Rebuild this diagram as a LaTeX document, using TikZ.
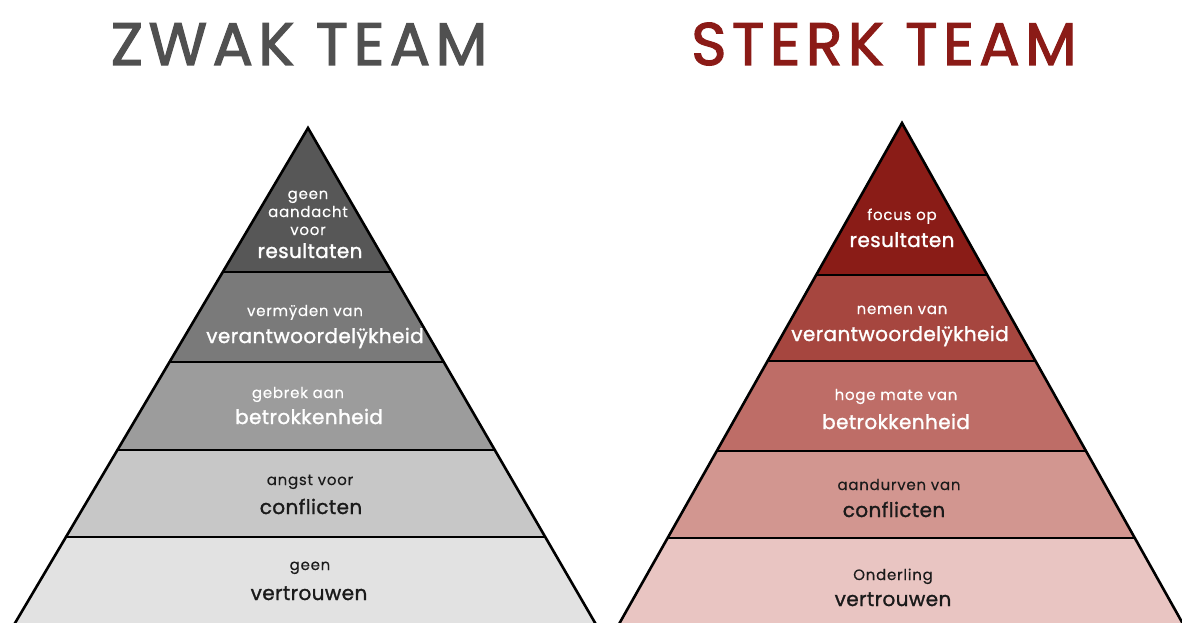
\documentclass[tikz,border=0pt]{standalone}
\usepackage{fontspec}
\setmainfont{Poppins}
\newfontfamily\titlefont[FakeBold=2,LetterSpace=9]{Poppins}
\newfontfamily\bigfont[FakeBold=1.3,LetterSpace=2]{Poppins}
\newfontfamily\smallfont[FakeBold=0.3,LetterSpace=5]{Poppins}
\definecolor{gA}{HTML}{575757}
\definecolor{gB}{HTML}{7A7A7A}
\definecolor{gC}{HTML}{9C9C9C}
\definecolor{gD}{HTML}{C7C7C7}
\definecolor{gE}{HTML}{E2E2E2}
\definecolor{rA}{HTML}{8A1C17}
\definecolor{rB}{HTML}{A6463F}
\definecolor{rC}{HTML}{BE6D67}
\definecolor{rD}{HTML}{D29690}
\definecolor{rE}{HTML}{E9C5C2}
\definecolor{titlegray}{HTML}{505050}
\definecolor{titlered}{HTML}{8B1B17}
\definecolor{ink}{HTML}{1A1A1A}
\tikzset{
  small/.style={font=\smallfont\fontsize{15}{15}\selectfont, inner sep=0pt, anchor=base},
  big/.style={font=\bigfont\fontsize{20}{20}\selectfont, inner sep=0pt, anchor=base},
  title/.style={font=\titlefont\fontsize{60}{60}\selectfont, inner sep=0pt, anchor=base},
  edge/.style={line width=2.6pt, black},
}
\begin{document}
\begin{tikzpicture}[x=1pt,y=-1pt]
\useasboundingbox (0,0) rectangle (1182,623);
\clip (0,0) rectangle (1182,623);
\fill[white] (0,0) rectangle (1182,623);

% ---------- left pyramid ----------
\coordinate (LA) at (308,128);
\coordinate (LL) at (5,640);
\coordinate (LR) at (605,640);
\begin{scope}
  \clip (LA) -- (LL) -- (LR) -- cycle;
  \fill[gA] (0,100) rectangle (620,272);
  \fill[gB] (0,272) rectangle (620,362);
  \fill[gC] (0,362) rectangle (620,450);
  \fill[gD] (0,450) rectangle (620,537);
  \fill[gE] (0,537) rectangle (620,650);
  \foreach \yy in {272,362,450,537} \draw[edge] (0,\yy) -- (620,\yy);
\end{scope}
\draw[edge, line join=miter] (LL) -- (LA) -- (LR);

% ---------- right pyramid ----------
\coordinate (RA) at (902,123);
\coordinate (RL) at (610,640);
\coordinate (RR) at (1192,640);
\begin{scope}
  \clip (RA) -- (RL) -- (RR) -- cycle;
  \fill[rA] (590,100) rectangle (1200,275);
  \fill[rB] (590,275) rectangle (1200,361);
  \fill[rC] (590,361) rectangle (1200,451);
  \fill[rD] (590,451) rectangle (1200,538);
  \fill[rE] (590,538) rectangle (1200,650);
  \foreach \yy in {275,361,451,538} \draw[edge] (590,\yy) -- (1200,\yy);
\end{scope}
\draw[edge, line join=miter] (RL) -- (RA) -- (RR);

% ---------- titles ----------
\node[title, text=titlegray] (tl) at (299,65) {ZWAK TEAM};
\node[title, text=titlered] (tr) at (884,65) {STERK TEAM};

% ---------- left texts ----------
\node[small, white] (l1a) at (308,199) {geen};
\node[small, white] (l1b) at (308,217) {aandacht};
\node[small, white] (l1c) at (308,235) {voor};
\node[big, white] (l1d) at (310,258) {resultaten};
\node[small, white] (l2a) at (305,316) {vermÿden van};
\node[big, white] (l2b) at (315,343) {verantwoordelÿkheid};
\node[small, white] (l3a) at (298,398) {gebrek aan};
\node[big, white] (l3b) at (309,424) {betrokkenheid};
\node[small, ink] (l4a) at (310,485) {angst voor};
\node[big, ink] (l4b) at (311,514) {conflicten};
\node[small, ink] (l5a) at (310,570) {geen};
\node[big, ink] (l5b) at (309,600) {vertrouwen};

% ---------- right texts ----------
\node[small, white] (r1a) at (902,220) {focus op};
\node[big, white] (r1b) at (902,247) {resultaten};
\node[small, white] (r2a) at (902,314) {nemen van};
\node[big, white] (r2b) at (900,341) {verantwoordelÿkheid};
\node[small, white] (r3a) at (896,400) {hoge mate van};
\node[big, white] (r3b) at (896,429) {betrokkenheid};
\node[small, ink] (r4a) at (899,490) {aandurven van};
\node[big, ink] (r4b) at (894,517) {conflicten};
\node[small, ink] (r5a) at (893,580) {Onderling};
\node[big, ink] (r5b) at (893,606) {vertrouwen};
\end{tikzpicture}
\end{document}
